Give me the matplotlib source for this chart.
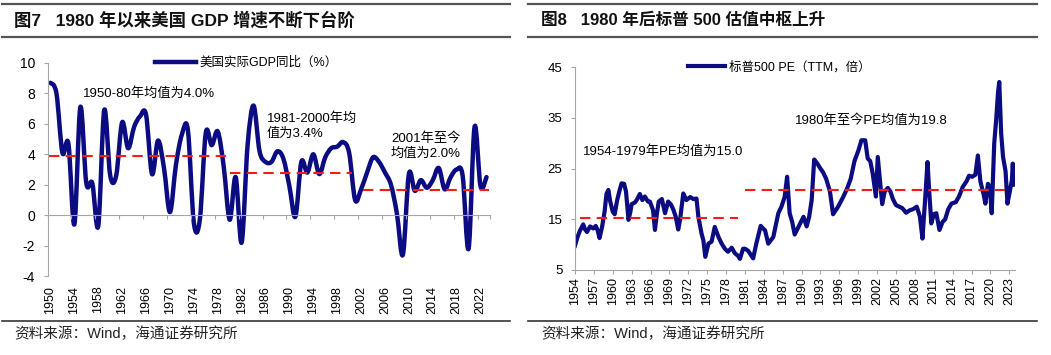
import matplotlib
matplotlib.use('Agg')
import matplotlib.pyplot as plt
from matplotlib.lines import Line2D
from matplotlib.path import Path
from matplotlib.patches import PathPatch

plt.rcParams['font.family'] = ['Liberation Sans', 'Noto Sans CJK SC']
plt.rcParams['axes.unicode_minus'] = False

# ---- data: US real GDP yoy (%), 1950-2023 ----
gdp_years = list(range(1950, 2024))
gdp_values = [8.7, 8.0, 4.1, 4.7, -0.6, 7.1, 2.1, 2.1, -0.7, 6.9,
              2.6, 2.6, 6.1, 4.4, 5.8, 6.5, 6.6, 2.7, 4.9, 3.1,
              0.2, 3.3, 5.3, 5.6, -0.5, -0.3, 5.4, 4.6, 5.5, 3.2,
              -0.3, 2.5, -1.8, 4.6, 7.2, 4.2, 3.5, 3.5, 4.2, 3.7,
              1.9, -0.1, 3.5, 2.8, 4.0, 2.7, 3.8, 4.4, 4.5, 4.8,
              4.1, 1.0, 1.7, 2.8, 3.8, 3.5, 2.8, 2.0, 0.1, -2.6,
              2.7, 1.6, 2.3, 1.8, 2.3, 3.1, 1.7, 2.5, 3.0, 2.6,
              -2.2, 5.8, 1.9, 2.5]
gdp_avg_start = [1949.8, 1980.1, 2002.4]
gdp_avg_end = [1980.1, 2000.5, 2023.4]
gdp_avg_level = [3.9, 2.75, 1.65]

# ---- data: S&P 500 PE (TTM) ----
pe_dates = [1954.0, 1954.4, 1954.8, 1955.3, 1955.6, 1955.9, 1956.4, 1956.9, 1957.3, 1957.6,
            1957.9, 1958.3, 1958.7, 1959.0, 1959.3, 1959.6, 1960.0, 1960.3, 1960.7, 1961.1,
            1961.4, 1961.8, 1962.1, 1962.5, 1962.8, 1963.0, 1963.5, 1963.8, 1964.3, 1964.7,
            1965.1, 1965.6, 1965.9, 1966.4, 1966.7, 1967.0, 1967.3, 1967.8, 1968.3, 1968.8,
            1969.2, 1969.6, 1970.0, 1970.4, 1970.7, 1971.2, 1971.7, 1972.3, 1972.8, 1973.3,
            1973.6, 1974.1, 1974.4, 1974.7, 1975.2, 1975.7, 1976.2, 1976.8, 1977.3, 1977.8,
            1978.3, 1978.9, 1979.4, 1979.9, 1980.2, 1980.7, 1981.0, 1981.5, 1982.3, 1982.8,
            1983.5, 1984.2, 1984.7, 1985.5, 1986.3, 1986.8, 1987.3, 1987.7, 1988.1, 1988.5,
            1988.9, 1989.7, 1990.3, 1990.8, 1991.2, 1991.6, 1992.0, 1992.5, 1993.0, 1993.4,
            1993.9, 1994.5, 1995.0, 1995.8, 1996.6, 1997.2, 1997.8, 1998.4, 1999.0, 1999.5,
            2000.1, 2000.5, 2000.9, 2001.3, 2001.8, 2002.1, 2002.5, 2002.8, 2003.2, 2003.7,
            2004.1, 2004.5, 2005.0, 2005.5, 2006.0, 2006.6, 2007.2, 2007.7, 2008.3, 2008.8,
            2009.2, 2009.6, 2010.0, 2010.3, 2010.6, 2011.0, 2011.4, 2011.9, 2012.4, 2012.8,
            2013.3, 2013.8, 2014.5, 2015.0, 2015.6, 2016.2, 2016.6, 2017.1, 2017.6, 2018.0,
            2018.4, 2018.9, 2019.2, 2019.6, 2019.9, 2020.2, 2020.6, 2020.9, 2021.2, 2021.4,
            2021.7, 2022.0, 2022.4, 2022.7, 2023.0, 2023.4, 2023.55, 2023.7, 2023.85]
pe_values = [9.8, 11.5, 12.8, 14.0, 13.0, 12.5, 13.6, 13.2, 13.7, 12.8,
             11.3, 13.5, 16.5, 20.0, 20.8, 18.5, 16.5, 16.0, 18.8, 20.8,
             22.1, 22.0, 20.5, 14.9, 16.5, 18.0, 18.3, 18.8, 20.0, 18.8,
             19.5, 18.5, 18.5, 16.8, 12.9, 16.0, 18.5, 19.0, 16.2, 18.5,
             18.0, 17.0, 15.5, 13.0, 15.0, 20.1, 18.8, 19.4, 19.0, 19.1,
             15.5, 12.2, 10.8, 7.6, 10.2, 10.6, 13.5, 11.5, 10.2, 9.2,
             8.6, 9.4, 8.3, 7.8, 7.2, 9.2, 9.2, 8.8, 7.3, 10.2,
             13.7, 12.8, 10.2, 11.5, 16.2, 17.5, 19.4, 23.4, 16.2, 14.5,
             12.0, 14.0, 15.5, 13.6, 15.5, 18.8, 26.8, 26.0, 25.0, 24.3,
             23.0, 20.5, 16.0, 17.5, 19.4, 21.0, 23.0, 26.5, 28.5, 30.6,
             30.6, 27.0, 26.5, 24.0, 19.5, 27.3, 22.0, 18.0, 20.5, 21.2,
             20.5, 19.0, 17.8, 17.5, 17.2, 16.3, 16.8, 17.0, 17.5, 15.5,
             11.2, 18.5, 26.3, 20.0, 14.2, 16.0, 16.2, 12.9, 14.5, 15.0,
             17.0, 18.1, 18.4, 19.5, 21.4, 22.5, 23.6, 23.4, 23.8, 27.6,
             22.5, 20.0, 18.1, 22.0, 21.5, 16.2, 30.0, 34.5, 40.0, 42.1,
             32.0, 27.3, 24.5, 18.1, 20.0, 22.7, 26.0, 21.8, 25.5]
pe_avg_start = [1954.8, 1981.0]
pe_avg_end = [1979.9, 2022.3]
pe_avg_level = [15.2, 20.7]
pe_tick_years = list(range(1954, 2024, 3))

navy = '#0b0b82'
red = '#ff1a1a'
gray = '#a6a6a6'
W, H = 1051, 355


def smooth_path(xs, ys):
    # Excel-style smoothed line: cubic Bezier through every point
    verts = [(xs[0], ys[0])]
    codes = [Path.MOVETO]
    n = len(xs)
    for i in range(n - 1):
        x0, y0 = xs[max(i - 1, 0)], ys[max(i - 1, 0)]
        x1, y1 = xs[i], ys[i]
        x2, y2 = xs[i + 1], ys[i + 1]
        x3, y3 = xs[min(i + 2, n - 1)], ys[min(i + 2, n - 1)]
        verts += [(x1 + (x2 - x0) / 6, y1 + (y2 - y0) / 6),
                  (x2 - (x3 - x1) / 6, y2 - (y3 - y1) / 6),
                  (x2, y2)]
        codes += [Path.CURVE4] * 3
    return Path(verts, codes)


fig = plt.figure(figsize=(W / 100, H / 100), dpi=100)

# header / footer rules and texts
for x0, x1 in [(2, 510), (528, 1037)]:
    for y in (4, 37):
        fig.add_artist(Line2D([x0 / W, x1 / W], [1 - y / H] * 2, lw=1.6, color='#555555'))
    fig.add_artist(Line2D([x0 / W, x1 / W], [1 - 321 / H] * 2, lw=1.2, color='#333333'))

fig.text(14 / W, 1 - 20 / H, '图7   1980 年以来美国 GDP 增速不断下台阶', fontsize=12.5,
         fontweight='bold', va='center', color='#111111')
fig.text(541 / W, 1 - 20 / H, '图8   1980 年后标普 500 估值中枢上升', fontsize=12,
         fontweight='bold', va='center', color='#111111')
fig.text(14 / W, 1 - 334 / H, '资料来源：Wind，海通证券研究所', fontsize=10.5, va='center', color='#222222')
fig.text(541 / W, 1 - 334 / H, '资料来源：Wind，海通证券研究所', fontsize=10.5, va='center', color='#222222')

# ---- left: GDP ----
ax1 = fig.add_axes([47.5 / W, 1 - 276 / H, 442 / W, (276 - 63) / H])
ax1.add_patch(PathPatch(smooth_path(gdp_years, gdp_values), fill=False, edgecolor=navy,
                        lw=3.2, joinstyle='round', capstyle='round'))
for s, e, v in zip(gdp_avg_start, gdp_avg_end, gdp_avg_level):
    ax1.plot([s, e], [v, v], color=red, lw=1.5, dashes=(5, 3))
ax1.set_xlim(1949.5, 2023.5)
ax1.set_ylim(-4, 10)
ax1.set_yticks(range(-4, 11, 2))
for sp in ['top', 'right']:
    ax1.spines[sp].set_visible(False)
ax1.spines['left'].set_color(gray)
ax1.spines['bottom'].set_color(gray)
ax1.spines['bottom'].set_position(('data', 0))
ax1.set_xticks([y - 0.5 for y in gdp_years[::4]] + [2023.5])
ax1.tick_params(axis='x', labelbottom=False, length=3, color=gray)
ax1.tick_params(axis='y', length=3, color=gray, labelsize=10, pad=6)
sec = ax1.secondary_xaxis('bottom')
sec.set_xticks(gdp_years[::4])
sec.set_xticklabels([str(y) for y in gdp_years[::4]], rotation=90, fontsize=9)
sec.tick_params(length=0, pad=7)
sec.spines['bottom'].set_visible(False)
ax1.text(1955.4, 8.0, '1950-80年均值为4.0%', fontsize=9.5, va='center')
ax1.text(1986.2, 5.85, '1981-2000年均\n值为3.4%', fontsize=9.5, va='center', linespacing=1.35)
ax1.text(2007.0, 4.55, '2001年至今\n均值为2.0%', fontsize=9.5, va='center', linespacing=1.35)
ax1.legend(handles=[Line2D([], [], color=navy, lw=3.2)], labels=['美国实际GDP同比（%）'],
           loc='center', bbox_to_anchor=(0.45, 1.0), frameon=False, fontsize=9,
           handlelength=3.3, handletextpad=0.3)

# ---- right: S&P 500 PE ----
ax2 = fig.add_axes([575 / W, 1 - 270 / H, 440 / W, (270 - 67.3) / H])
ax2.plot(pe_dates, pe_values, color=navy, lw=3.0, solid_joinstyle='round',
         label='标普500 PE（TTM，倍）')
for s, e, v in zip(pe_avg_start, pe_avg_end, pe_avg_level):
    ax2.plot([s, e], [v, v], color=red, lw=1.5, dashes=(5, 3))
ax2.set_xlim(1954, 2023.9)
ax2.set_ylim(5, 45)
ax2.set_yticks(range(5, 46, 10))
ax2.set_xticks(pe_tick_years)
ax2.set_xticklabels([str(y) for y in pe_tick_years], rotation=90, fontsize=9)
for sp in ['top', 'right']:
    ax2.spines[sp].set_visible(False)
ax2.spines['left'].set_color(gray)
ax2.spines['bottom'].set_color(gray)
ax2.tick_params(axis='x', length=3, color=gray, pad=2)
ax2.tick_params(axis='y', length=3, color=gray, labelsize=9.5, pad=6)
ax2.text(1955.3, 28.3, '1954-1979年PE均值为15.0', fontsize=9.5, va='center')
ax2.text(1988.9, 34.4, '1980年至今PE均值为19.8', fontsize=9.5, va='center')
ax2.legend(loc='center', bbox_to_anchor=(0.464, 1.0), frameon=False, fontsize=9,
           handlelength=3.0, handletextpad=0.3)

fig.savefig('out.png', dpi=100)
